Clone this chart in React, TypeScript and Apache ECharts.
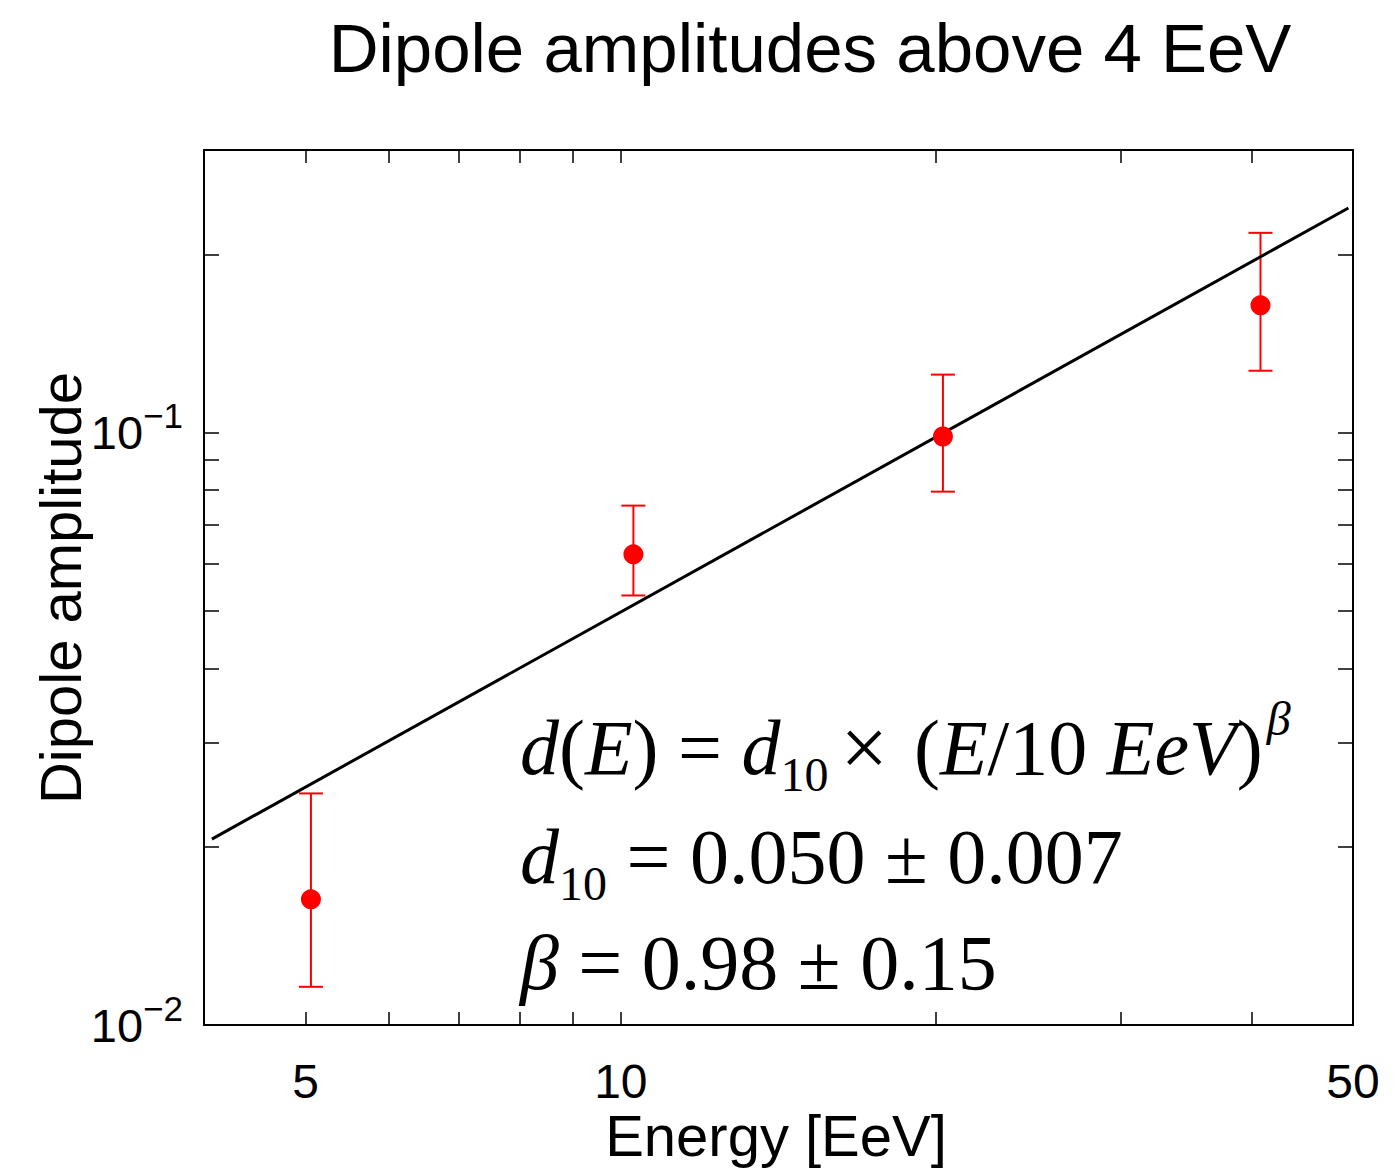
import React, { useEffect, useRef } from "react";
import * as echarts from "echarts";

// Measured dipole amplitudes (energy in EeV)
const energy = [5.06, 10.28, 20.3, 40.8];
const amplitude = [0.0163, 0.0623, 0.0985, 0.164];
const errLow = [0.0116, 0.0531, 0.0795, 0.1272];
const errHigh = [0.0246, 0.0753, 0.1253, 0.2174];

// Power-law fit, end points of the drawn segment
const fitEnergy = [4.07, 49.5];
const fitAmplitude = [0.0206, 0.2395];

// Axis ticks and labels
const xTickValues = [5, 6, 7, 8, 9, 10, 20, 30, 40];
const xLabelValues = [5, 10, 50];
const yTickValues = [0.02, 0.03, 0.04, 0.05, 0.06, 0.07, 0.08, 0.09, 0.1, 0.2];
const yLabelValues = [0.01, 0.1];

const SANS = "'Liberation Sans', Arial, Helvetica, sans-serif";
const SERIF = "'Liberation Serif', 'Times New Roman', serif";

const axisLine = { show: true, onZero: false, lineStyle: { color: "#000", width: 2 } };

function xAxisDef(position: "bottom" | "top", showLabels: boolean) {
  return {
    type: "log",
    logBase: 10,
    min: 4,
    max: 50,
    position,
    axisLine,
    splitLine: { show: false },
    minorTick: { show: false },
    axisTick: {
      show: true,
      inside: true,
      length: 13,
      customValues: xTickValues,
      lineStyle: { color: "#000", width: 1.5 },
    },
    axisLabel: {
      show: showLabels,
      customValues: xLabelValues,
      margin: 34,
      fontSize: 48,
      lineHeight: 44,
      fontFamily: SANS,
      color: "#000",
      showMinLabel: true,
      showMaxLabel: true,
      formatter: (v: number) => String(Math.round(v)),
    },
  };
}

function yAxisDef(position: "left" | "right", showLabels: boolean) {
  return {
    type: "log",
    logBase: 10,
    min: 0.01,
    max: 0.3,
    position,
    axisLine,
    splitLine: { show: false },
    minorTick: { show: false },
    axisTick: {
      show: true,
      inside: true,
      length: 15,
      customValues: yTickValues,
      lineStyle: { color: "#000", width: 1.5 },
    },
    axisLabel: {
      show: showLabels,
      customValues: yLabelValues,
      margin: 21,
      showMinLabel: true,
      showMaxLabel: true,
      formatter: (v: number) => {
        const e = Math.round(Math.log10(v));
        return `{b|10}{s|\u2212${-e}}`;
      },
      rich: {
        b: { fontSize: 47, fontFamily: SANS, color: "#000", lineHeight: 60 },
        s: { fontSize: 35, fontFamily: SANS, color: "#000", lineHeight: 60, padding: [0, 0, 34, 0] },
      },
    },
  };
}

const formulaRich = {
  r: { fontFamily: SERIF, fontSize: 78, fill: "#000", lineHeight: 100 },
  i: { fontFamily: SERIF, fontSize: 78, fontStyle: "italic", fill: "#000", lineHeight: 100 },
  x: { fontFamily: SERIF, fontSize: 84, fill: "#000", lineHeight: 100, padding: [0, 26, 0, 12] },
  sub: { fontFamily: SERIF, fontSize: 48, fill: "#000", lineHeight: 100, padding: [54, 0, 0, 0] },
  sup: { fontFamily: SERIF, fontSize: 48, fontStyle: "italic", fill: "#000", lineHeight: 100, padding: [0, 0, 58, 4] },
};

function formulaText(text: string, y: number) {
  return {
    type: "text",
    x: 520,
    y,
    style: { text, rich: formulaRich, align: "left", verticalAlign: "middle", fill: "#000" },
  };
}

export default function App() {
  const ref = useRef<HTMLDivElement>(null);

  useEffect(() => {
    document.body.style.margin = "0";
    if (!ref.current) return;
    const chart = echarts.init(ref.current, undefined, { renderer: "svg" });

    const errorData = energy.map((e, i) => [e, errLow[i], errHigh[i]]);
    const pointData = energy.map((e, i) => [e, amplitude[i]]);
    const fitData = fitEnergy.map((e, i) => [e, fitAmplitude[i]]);

    chart.setOption({
      animation: false,
      backgroundColor: "#fff",
      grid: { left: 204, right: 46, top: 150, bottom: 143, containLabel: false },
      xAxis: [xAxisDef("bottom", true), xAxisDef("top", false)],
      yAxis: [yAxisDef("left", true), yAxisDef("right", false)],
      graphic: [
        {
          type: "text",
          x: 810,
          y: 48,
          style: {
            text: "Dipole amplitudes above 4 EeV",
            fontSize: 69,
            fontFamily: SANS,
            fill: "#000",
            align: "center",
            verticalAlign: "middle",
          },
        },
        {
          type: "text",
          x: 776,
          y: 1135,
          style: {
            text: "Energy [EeV]",
            fontSize: 58,
            lineHeight: 50,
            fontFamily: SANS,
            fill: "#000",
            align: "center",
            verticalAlign: "middle",
          },
        },
        {
          type: "text",
          x: 60,
          y: 588,
          rotation: Math.PI / 2,
          style: {
            text: "Dipole amplitude",
            fontSize: 58,
            fontFamily: SANS,
            fill: "#000",
            align: "center",
            verticalAlign: "middle",
          },
        },
        formulaText("{i|d}{r|(}{i|E}{r|) = }{i|d}{sub|10}{x|\u00d7}{r|(}{i|E}{r|/10 }{i|EeV}{r|)}{sup|\u03b2}", 747),
        formulaText("{i|d}{sub|10}{r| = 0.050 \u00b1 0.007}", 856),
        formulaText("{i|\u03b2}{r| = 0.98 \u00b1 0.15}", 962),
      ],
      series: [
        {
          type: "custom",
          name: "error",
          xAxisIndex: 0,
          yAxisIndex: 0,
          data: errorData,
          encode: { x: 0, y: [1, 2] },
          z: 2,
          renderItem: (_params: any, api: any) => {
            const x = api.value(0);
            const lo = api.coord([x, api.value(1)]);
            const hi = api.coord([x, api.value(2)]);
            const half = 12;
            const style = { stroke: "#ff0000", lineWidth: 2 };
            return {
              type: "group",
              children: [
                { type: "line", shape: { x1: lo[0], y1: lo[1], x2: hi[0], y2: hi[1] }, style },
                { type: "line", shape: { x1: lo[0] - half, y1: lo[1], x2: lo[0] + half, y2: lo[1] }, style },
                { type: "line", shape: { x1: hi[0] - half, y1: hi[1], x2: hi[0] + half, y2: hi[1] }, style },
              ],
            };
          },
        },
        {
          type: "line",
          name: "fit",
          data: fitData,
          symbol: "none",
          z: 3,
          lineStyle: { color: "#000", width: 3 },
        },
        {
          type: "scatter",
          name: "data",
          data: pointData,
          symbol: "circle",
          symbolSize: 20,
          z: 4,
          itemStyle: { color: "#ff0000", opacity: 1 },
        },
      ],
    });

    return () => chart.dispose();
  }, []);

  return <div ref={ref} style={{ width: 1399, height: 1168 }} />;
}
